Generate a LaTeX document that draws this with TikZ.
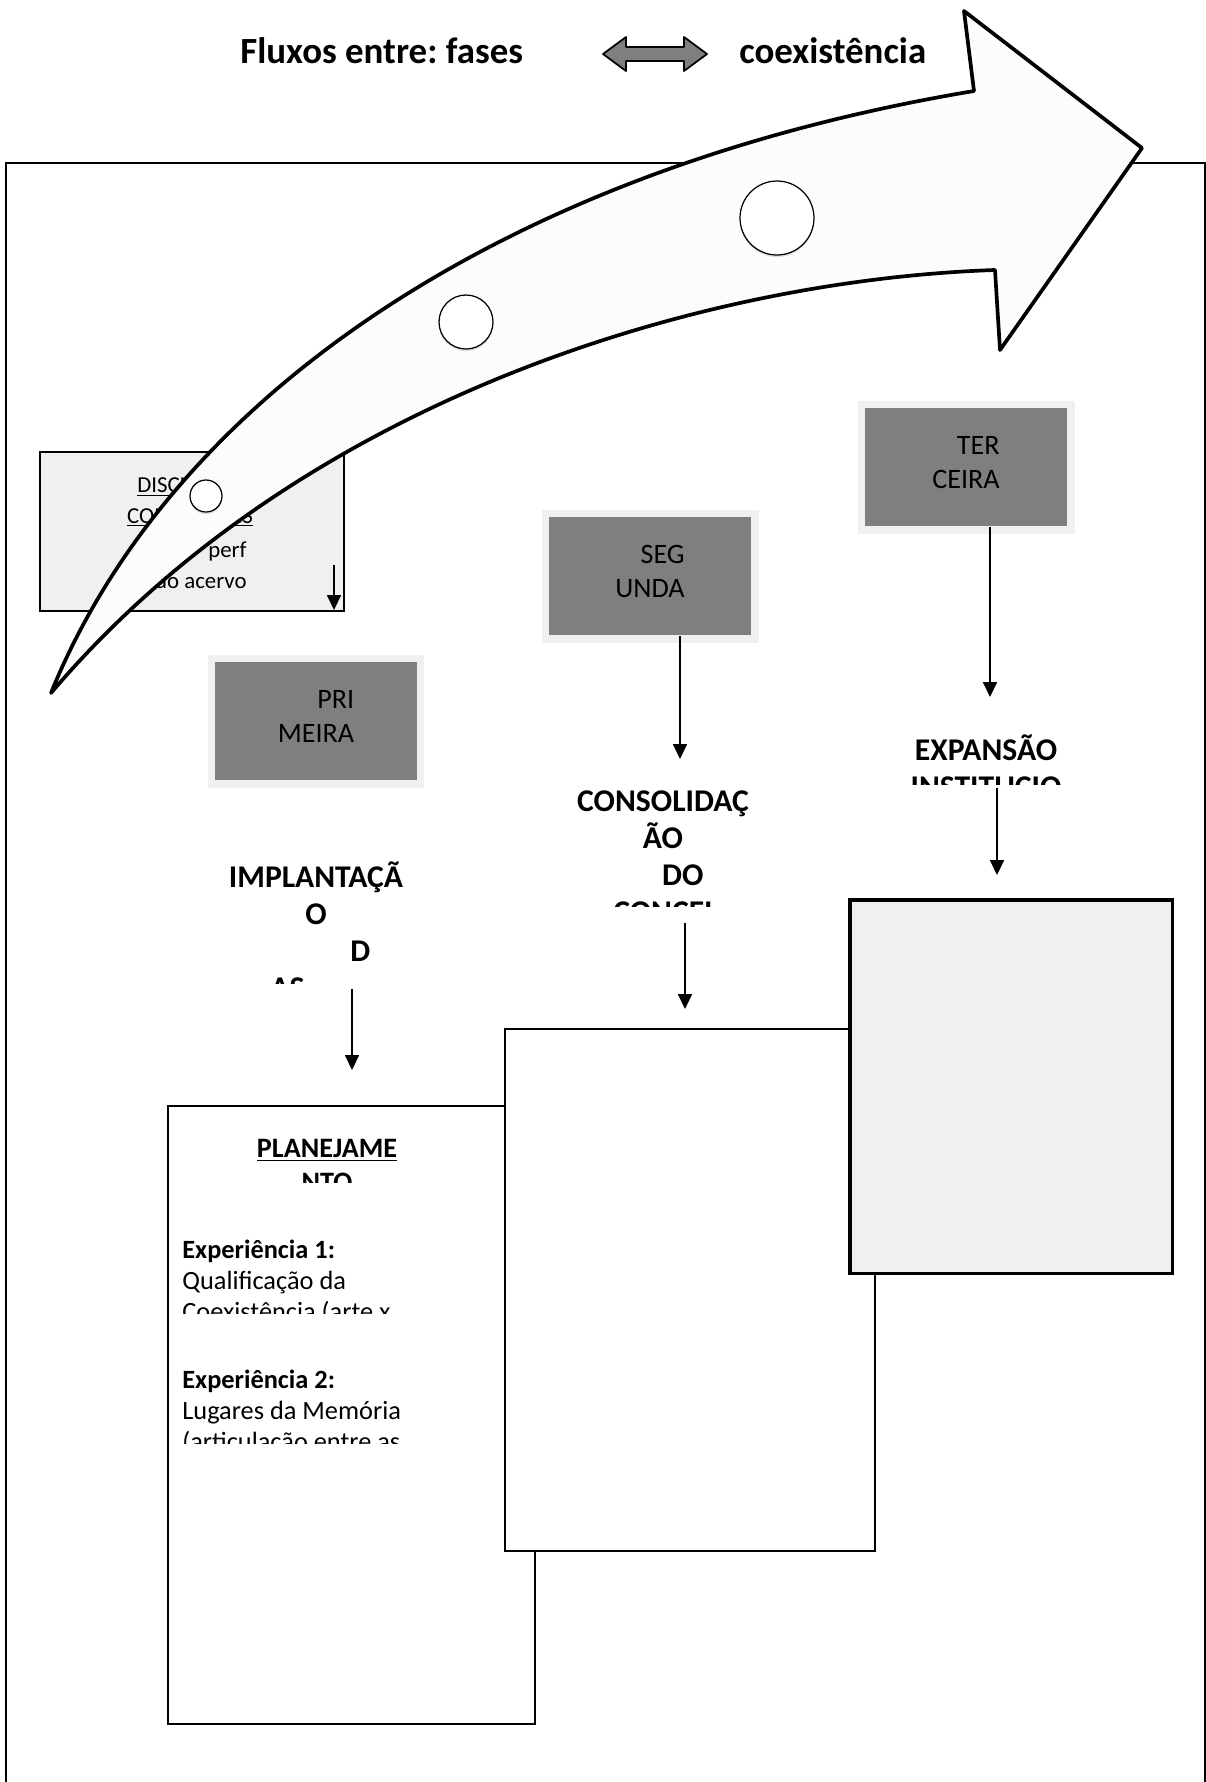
\documentclass[tikz,border=0pt]{standalone}
\usepackage{fontspec}
\setmainfont{Carlito}
\frenchspacing
\usetikzlibrary{arrows.meta,shadows}
\definecolor{phasegray}{HTML}{7F7F7F}
\definecolor{lightfill}{HTML}{F0F0F0}
\definecolor{arrowfill}{HTML}{FCFCFC}

\tikzset{
  flow/.style={line width=0.9pt, -{Triangle[width=8pt,length=8.5pt]}},
  phasebox/.style={fill=phasegray, draw=lightfill, line width=4pt, minimum width=4.2cm,
    minimum height=2.52cm, align=right, font=\fontsize{16}{19.5}\selectfont, inner sep=0pt,
    text depth=5.5pt},
  stagelabel/.style={align=center, font=\fontsize{18}{21}\selectfont\bfseries, inner sep=0pt, anchor=base},
  phasedot/.style={circle, draw, fill=white, line width=0.7pt, inner sep=0pt,
    drop shadow={opacity=0.25, shadow xshift=0pt, shadow yshift=-1.2pt}},
  sheet/.style={draw, fill=white, line width=1.2pt, anchor=north west, inner sep=0pt},
  bodytext/.style={align=left, font=\fontsize{15}{17.6}\selectfont, inner sep=0pt, anchor=base west},
}

\begin{document}
\begin{tikzpicture}[x=0.02cm, y=-0.02cm]
  \useasboundingbox (0,0) rectangle (1206,1782);
  \fill[white] (0,0) rectangle (1206,1782);

  % outer frame
  \draw[line width=1.1pt] (6,1800) |- (1205,163) -- (1205,1800);

  % title
  \node[font=\fontsize{21}{25}\selectfont\bfseries, anchor=base west, inner sep=0pt] (fluxos) at (240,63) {Fluxos entre: fases};
  \node[font=\fontsize{21}{25}\selectfont\bfseries, anchor=base west, inner sep=0pt] (coexist) at (739,63) {coexistência};
  \draw[fill=phasegray, line width=1pt, line join=round]
    (603,54) -- (626,37) -- (626,47) -- (684,47) -- (684,37) -- (707,54)
    -- (684,71) -- (684,61) -- (626,61) -- (626,71) -- cycle;

  % discursos box (under the big arrow)
  \node[draw, fill=lightfill, line width=1.2pt, anchor=north west, minimum width=6.08cm,
    minimum height=3.18cm, inner sep=0pt] (disc) at (39,451) {};
  \node[font=\fontsize{13}{17.5}\selectfont, align=center, anchor=base, inner sep=0pt]
    (disctitle) at (190,523) {\underline{DISCURSOS}\\\underline{CONCEITUAIS}};
  \node[font=\fontsize{13}{17.5}\selectfont, align=right, anchor=base east, inner sep=0pt]
    (discbody) at (247,588) {perf\\do acervo};
  \coordinate (discA) at (334,565);
  \coordinate (discB) at (334,610);
  \draw[flow] (discA) -- (discB);

  % big curved arrow
  \draw[fill=arrowfill, line width=2.1pt, line join=round]
    (51,693) .. controls (170,400) and (500,170) .. (974,91)
    -- (964,11) -- (1142,148) -- (1000,350) -- (995,270)
    .. controls (700,280) and (300,400) .. (51,693) -- cycle;
  \node[phasedot, minimum size=0.64cm] (dot1) at (206,496) {};
  \node[phasedot, minimum size=1.08cm] (dot2) at (466,322) {};
  \node[phasedot, minimum size=1.48cm] (dot3) at (777,218) {};

  % phases
  \node[phasebox] (prim) at (316,721) {PRI\\MEIRA};
  \node[phasebox] (seg) at (650,576) {SEG\\UNDA};
  \node[phasebox] (ter) at (966,467) {TER\\CEIRA};

  % stage labels
  \begin{scope}
    \clip (150,850) rectangle (480,983);
    \node[stagelabel] (implant) at (316,998) {IMPLANTAÇÃ\\O\\\hspace*{2.8em}D\\AS\hspace*{1.8em}};
  \end{scope}
  \begin{scope}
    \clip (540,770) rectangle (800,906);
    \node[stagelabel] (consol) at (663,922) {CONSOLIDAÇ\\ÃO\\\hspace*{1.25em}DO\\CONCEI};
  \end{scope}
  \begin{scope}
    \clip (880,720) rectangle (1100,784);
    \node[stagelabel] (expans) at (986,797) {EXPANSÃO\\INSTITUCIO};
  \end{scope}

  % sheets
  \node[sheet, minimum width=7.34cm, minimum height=12.36cm] (sheetA) at (167,1105) {};
  \begin{scope}
    \clip (170,1120) rectangle (530,1182);
    \node[font=\fontsize{16}{19}\selectfont\bfseries, align=center, anchor=base, inner sep=0pt]
      (planej) at (327,1191) {\underline{PLANEJAME}\\\underline{NTO}};
  \end{scope}
  \begin{scope}
    \clip (170,1230) rectangle (530,1313);
    \node[bodytext] (exp1) at (182,1320) {\textbf{Experiência 1:}\\Qualificação da\\Coexistência (arte x};
  \end{scope}
  \begin{scope}
    \clip (170,1360) rectangle (530,1443);
    \node[bodytext] (exp2) at (182,1450) {\textbf{Experiência 2:}\\Lugares da Memória\\(articulação entre as};
  \end{scope}
  \node[sheet, minimum width=7.4cm, minimum height=10.44cm] (sheetB) at (504,1028) {};
  \node[sheet, fill=lightfill, line width=2pt, minimum width=6.46cm, minimum height=7.48cm] (sheetC) at (848,898) {};

  % connectors
  \coordinate (segfoot) at (680,636);
  \coordinate (consolhead) at (680,759);
  \coordinate (terfoot) at (990,527);
  \coordinate (expanshead) at (990,697);
  \coordinate (expansfoot) at (997,788);
  \coordinate (sheetChead) at (997,875);
  \coordinate (consolfoot) at (685,923);
  \coordinate (sheetBhead) at (685,1009);
  \coordinate (implantfoot) at (352,989);
  \coordinate (sheetAhead) at (352,1070);
  \draw[flow] (segfoot) -- (consolhead);
  \draw[flow] (terfoot) -- (expanshead);
  \draw[flow] (expansfoot) -- (sheetChead);
  \draw[flow] (consolfoot) -- (sheetBhead);
  \draw[flow] (implantfoot) -- (sheetAhead);
\end{tikzpicture}
\end{document}
